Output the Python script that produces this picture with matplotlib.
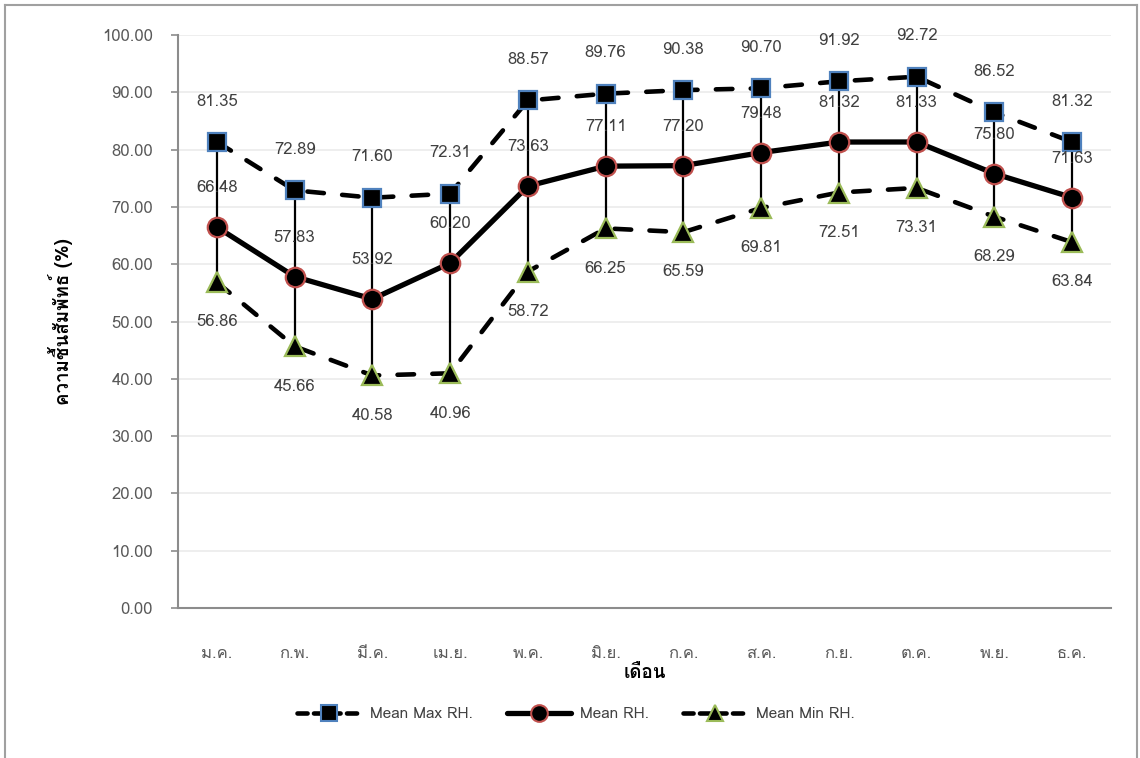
import matplotlib
matplotlib.use("Agg")
import matplotlib.pyplot as plt
from matplotlib import font_manager as fm, ft2font
from matplotlib.lines import Line2D
import numpy as np

months = ['ม.ค.', 'ก.พ.', 'มี.ค.', 'เม.ย.', 'พ.ค.', 'มิ.ย.',
          'ก.ค.', 'ส.ค.', 'ก.ย.', 'ต.ค.', 'พ.ย.', 'ธ.ค.']
rh_max = [81.35, 72.89, 71.60, 72.31, 88.57, 89.76, 90.38, 90.70, 91.92, 92.72, 86.52, 81.32]
rh_mean = [66.48, 57.83, 53.92, 60.20, 73.63, 77.11, 77.20, 79.48, 81.32, 81.33, 75.80, 71.63]
rh_min = [56.86, 45.66, 40.58, 40.96, 58.72, 66.25, 65.59, 69.81, 72.51, 73.31, 68.29, 63.84]
series_names = ['Mean Max RH.', 'Mean RH.', 'Mean Min RH.']
y_ticks = [0, 10, 20, 30, 40, 50, 60, 70, 80, 90, 100]


def find_thai_family():
    """Return an installed font family that covers the Thai block."""
    preferred = []
    others = []
    for f in fm.fontManager.ttflist:
        try:
            cmap = ft2font.FT2Font(f.fname).get_charmap()
        except Exception:
            continue
        if 0x0E01 in cmap and 0x0E34 in cmap:
            if 'sans' in f.name.lower() or 'loma' in f.name.lower():
                preferred.append(f.name)
            else:
                others.append(f.name)
    for lst in (preferred, others):
        if lst:
            return lst[0]
    return None


thai = find_thai_family()
latin = 'Liberation Sans'
fam = [thai, latin, 'DejaVu Sans'] if thai else [latin, 'DejaVu Sans']
plt.rcParams['font.family'] = fam

fig = plt.figure(figsize=(11.4, 7.58), dpi=100)
ax = fig.add_axes([178 / 1140, 1 - 608 / 758, (1111 - 178) / 1140, (608 - 35) / 758])

x = np.arange(len(months))
tick_gray = '#595959'
label_gray = '#404040'

# grid
ax.set_axisbelow(True)
ax.yaxis.grid(True, color='#EBEBEB', lw=1.2)
ax.xaxis.grid(False)

# high-low connectors
ax.vlines(x, rh_min, rh_max, colors='black', lw=1.6, zorder=2)

dash = (0, (3.6, 4.0))
ax.plot(x, rh_max, color='black', lw=3.3, linestyle=dash, dash_capstyle='round',
        marker='s', markersize=13, markerfacecolor='black', markeredgecolor='#4F81BD',
        markeredgewidth=1.6, zorder=3)
ax.plot(x, rh_mean, color='black', lw=3.8, solid_capstyle='round',
        marker='o', markersize=14, markerfacecolor='black', markeredgecolor='#C0504D',
        markeredgewidth=1.6, zorder=4)
ax.plot(x, rh_min, color='black', lw=3.3, linestyle=dash, dash_capstyle='round',
        marker='^', markersize=14, markerfacecolor='black', markeredgecolor='#9BBB59',
        markeredgewidth=1.6, zorder=3)

# value labels
for xi, a, m, b in zip(x, rh_max, rh_mean, rh_min):
    ax.annotate(f'{a:.2f}', (xi, a), xytext=(0, 29), textcoords='offset points',
                ha='center', va='center', fontsize=12, color=label_gray, zorder=5)
    ax.annotate(f'{m:.2f}', (xi, m), xytext=(0, 28), textcoords='offset points',
                ha='center', va='center', fontsize=12, color=label_gray, zorder=5)
    ax.annotate(f'{b:.2f}', (xi, b), xytext=(0, -29), textcoords='offset points',
                ha='center', va='center', fontsize=12, color=label_gray, zorder=5)

ax.set_xlim(-0.5, len(months) - 0.5)
ax.set_ylim(0, 100)
ax.set_yticks(y_ticks)
ax.set_yticklabels([f'{v:.2f}' for v in y_ticks])
ax.set_xticks(x)
ax.set_xticklabels(months)
ax.tick_params(axis='y', length=5, width=1.2, color='#8C8C8C', pad=13,
               labelsize=12, labelcolor=tick_gray)
ax.tick_params(axis='x', length=0, pad=27, labelsize=12, labelcolor=tick_gray)

for side in ('top', 'right'):
    ax.spines[side].set_visible(False)
for side in ('left', 'bottom'):
    ax.spines[side].set_color('#8C8C8C')
    ax.spines[side].set_linewidth(1.5)

ax.set_ylabel('ความชื้นสัมพัทธ์ (%)', fontsize=13.5, fontweight='bold')
ax.yaxis.set_label_coords(-0.113, 0.5)
ax.set_xlabel('เดือน', fontsize=13.5, fontweight='bold')
ax.xaxis.set_label_coords(0.5, -0.098)

handles = [
    Line2D([], [], color='black', lw=3.3, linestyle=(0, (2.2, 1.4)), dash_capstyle='round',
           marker='s', markersize=11, markerfacecolor='black',
           markeredgecolor='#4F81BD', markeredgewidth=1.5),
    Line2D([], [], color='black', lw=3.8, solid_capstyle='round',
           marker='o', markersize=12, markerfacecolor='black',
           markeredgecolor='#C0504D', markeredgewidth=1.5),
    Line2D([], [], color='black', lw=3.3, linestyle=(0, (2.2, 1.4)), dash_capstyle='round',
           marker='^', markersize=12, markerfacecolor='black',
           markeredgecolor='#9BBB59', markeredgewidth=1.5),
]
fig.legend(handles, series_names, loc='center', bbox_to_anchor=(576 / 1140, 1 - 714 / 758),
           ncol=3, frameon=False, fontsize=11, handlelength=4.2, handletextpad=0.6,
           columnspacing=2.2, labelcolor='#404040')

# outer frame (open at the bottom edge of the canvas)
frame_kw = dict(color='#A0A0A0', lw=1.5, transform=fig.transFigure, clip_on=False)
fig.add_artist(Line2D([5 / 1140, 5 / 1140], [0, 1 - 5 / 758], **frame_kw))
fig.add_artist(Line2D([5 / 1140, 1137 / 1140], [1 - 5 / 758, 1 - 5 / 758], **frame_kw))
fig.add_artist(Line2D([1137 / 1140, 1137 / 1140], [0, 1 - 5 / 758], **frame_kw))

fig.savefig('out.png', dpi=100)
